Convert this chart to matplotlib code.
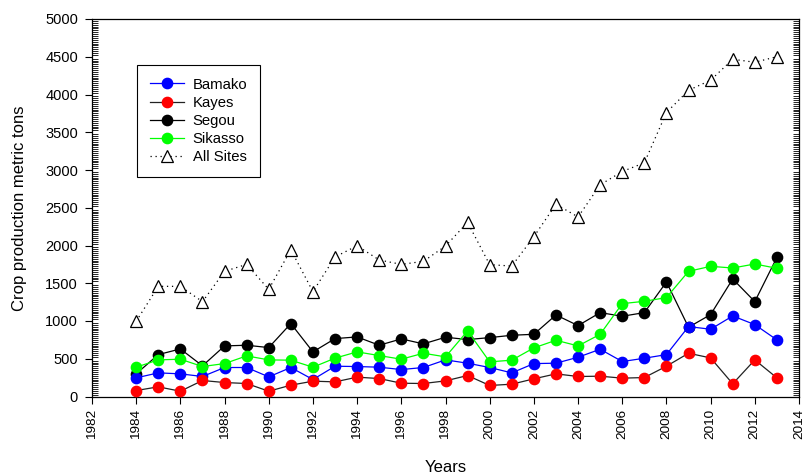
import matplotlib
matplotlib.use("Agg")
import matplotlib.pyplot as plt
from matplotlib.ticker import MultipleLocator

plt.rcParams["font.family"] = ["Liberation Sans", "DejaVu Sans"]

# Data ─────────────────────────────────────────────────────────────────
years = list(range(1984, 2014))

bamako = [247, 313, 300, 265, 384, 384, 260, 384, 225, 401,
          397, 388, 357, 384, 485, 441, 384, 313, 436, 441,
          520, 626, 463, 507, 555, 926, 891, 1067, 952, 750]
kayes = [79, 128, 70, 212, 185, 172, 70, 150, 203, 194,
         256, 238, 176, 172, 207, 278, 146, 163, 234, 300,
         265, 269, 243, 251, 401, 573, 511, 168, 485, 247]
segou = [300, 555, 630, 406, 670, 679, 648, 966, 591, 767,
         789, 679, 763, 697, 785, 754, 780, 811, 824, 1080,
         939, 1111, 1063, 1111, 1517, 917, 1085, 1557, 1257, 1843]
sikasso = [388, 485, 494, 397, 436, 538, 485, 481, 388, 508,
           591, 542, 494, 573, 525, 869, 459, 481, 644, 745,
           670, 824, 1230, 1261, 1310, 1658, 1724, 1702, 1755, 1698]
all_sites = [996, 1459, 1459, 1256, 1658, 1750, 1419, 1944, 1389, 1848,
             1997, 1808, 1750, 1790, 1993, 2306, 1746, 1728, 2117, 2546,
             2378, 2804, 2980, 3095, 3761, 4056, 4189, 4467, 4427, 4501]

# Figure ──────────────────────────────────────────────
fig = plt.figure(figsize=(8.02, 4.76), dpi=100)
ax = fig.add_axes([92/802, 1 - 396.5/476, 707/802, 377.5/476])

ms = 7.4
ax.plot(years, segou, "-o", color="black", lw=0.9, ms=ms, mec="black", label="Segou", zorder=3)
ax.plot(years, bamako, "-o", color="#0000ff", lw=0.9, ms=ms, mec="#0000ff", label="Bamako", zorder=4)
ax.plot(years, kayes, "-o", color="#222222", lw=0.9, ms=ms, mfc="#ff0000", mec="#ff0000", label="Kayes", zorder=4)
ax.plot(years, sikasso, "-o", color="#00ff00", lw=0.9, ms=ms, mec="#00ff00", label="Sikasso", zorder=4)
ax.plot(years, all_sites, ls=(0, (1, 3)), color="black", lw=0.9, marker="^", ms=8.5,
        mfc="white", mec="black", mew=0.9, label="All Sites", zorder=5)

ax.set_xlim(1982, 2014)
ax.set_ylim(0, 5000)
ax.xaxis.set_major_locator(MultipleLocator(2))
ax.yaxis.set_major_locator(MultipleLocator(500))
ax.yaxis.set_minor_locator(MultipleLocator(25))

ax.tick_params(axis="x", which="major", direction="out", length=5, width=0.8,
               labelsize=9.7, labelrotation=90, pad=4)
ax.tick_params(axis="y", which="major", direction="out", length=5, width=0.8,
               labelsize=10.5, pad=5)
ax.tick_params(axis="y", which="minor", direction="in", length=4, width=0.6,
               left=True, right=True)

for s in ax.spines.values():
    s.set_linewidth(0.9)

ax.set_xlabel("Years", fontsize=12, labelpad=15)
ax.set_ylabel("Crop production metric tons", fontsize=12, labelpad=13)

handles, labels = ax.get_legend_handles_labels()
order = ["Bamako", "Kayes", "Segou", "Sikasso", "All Sites"]
hmap = dict(zip(labels, handles))
leg = ax.legend([hmap[k] for k in order], order, loc="upper left",
                bbox_to_anchor=(0.0636, 0.878), borderaxespad=0, fontsize=10.7,
                frameon=True, fancybox=False, edgecolor="black", framealpha=1,
                handlelength=2.3, labelspacing=0.28, borderpad=0.85, handletextpad=0.6)
leg.get_frame().set_linewidth(0.8)

fig.savefig("out.png", dpi=100)
